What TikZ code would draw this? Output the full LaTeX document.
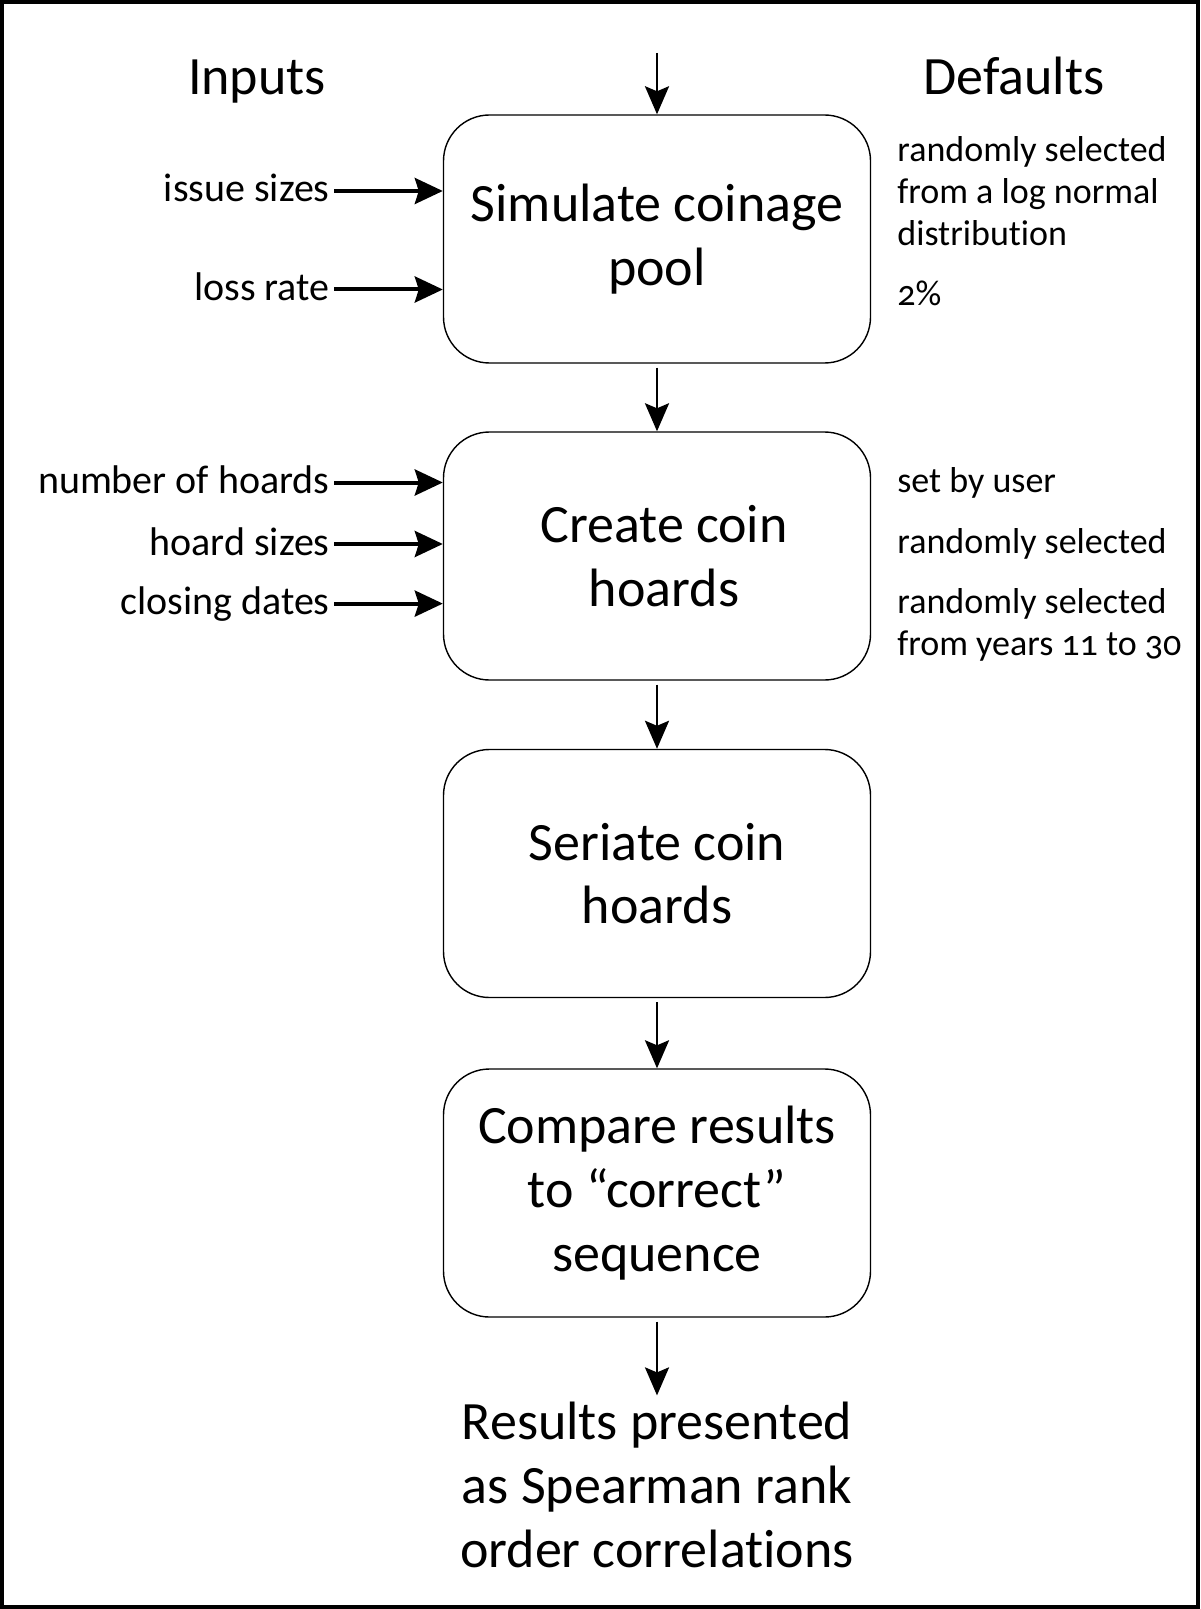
\documentclass[tikz,border=0pt]{standalone}
\usepackage{fontspec}
\setmainfont{Carlito}[Numbers=OldStyle, Ligatures=NoCommon]
\usetikzlibrary{arrows.meta}
\begin{document}
\begin{tikzpicture}[x=0.5pt, y=-0.5pt,
  stepbox/.style={draw, line width=0.7pt, rounded corners=23pt,
    minimum width=213.5pt, minimum height=124pt, align=center,
    font=\fontsize{27}{31.8}\selectfont},
  headtext/.style={font=\fontsize{27}{31.8}\selectfont},
  inlabel/.style={anchor=east, inner sep=2pt, font=\fontsize{20}{24}\selectfont,
    text height=12pt, text depth=1pt},
  deflabel/.style={anchor=west, inner sep=0pt, align=left,
    font=\fontsize{18}{21}\selectfont},
  inarrow/.style={line width=2pt, -{Stealth[length=14pt, width=13pt, inset=2pt]}},
  flowarrow/.style={line width=1.4pt, shorten <=2pt,
    -{Stealth[length=14pt, width=12pt, inset=2.5pt]}}]
  \useasboundingbox (0,0) rectangle (1200,1609);

  % Frame
  \draw[line width=2pt] (2,2) rectangle (1198,1607);

  % Column heads
  \node[headtext, anchor=base] (inputs) at (257,95) {Inputs};
  \node[headtext, anchor=base] (defaults) at (1014,95) {Defaults};

  % Process steps
  \coordinate (start) at (657,49);
  \node[stepbox] (pool) at (657,239) {Simulate coinage\\pool};
  \node[stepbox] (hoards) at (657,556) {\hspace*{7pt}Create coin\\\hspace*{7pt}hoards};
  \node[stepbox] (seriate) at (657,873.5) {Seriate coin\\hoards};
  \node[stepbox] (compare) at (657,1193) {Compare results\\to ``correct''\\sequence};
  \node[headtext, align=center] (results) at (657,1485)
    {Results presented\\as Spearman rank\\order correlations};

  \draw[flowarrow] (start) -- (pool);
  \draw[flowarrow] (pool) -- (hoards);
  \draw[flowarrow] (hoards) -- (seriate);
  \draw[flowarrow] (seriate) -- (compare);
  \draw[flowarrow] (compare) -- (results);

  % Inputs to the coinage pool
  \node[inlabel] (issue) at (334,191) {issue sizes};
  \node[inlabel] (loss) at (334,289.5) {loss rate};
  \draw[inarrow] (issue) -- (issue -| pool.west);
  \draw[inarrow] (loss) -- (loss -| pool.west);

  % Inputs to the hoards
  \node[inlabel] (number) at (334,482.5) {number of hoards};
  \node[inlabel] (sizes) at (334,544) {hoard sizes};
  \node[inlabel] (closing) at (334,603.6) {closing dates};
  \draw[inarrow] (number) -- (number -| hoards.west);
  \draw[inarrow] (sizes) -- (sizes -| hoards.west);
  \draw[inarrow] (closing) -- (closing -| hoards.west);

  % Defaults
  \node[deflabel] (issuedef) at (897,191)
    {randomly selected\\from a log normal\\distribution};
  \node[deflabel] (lossdef) at (897,293.6) {2\%};
  \node[deflabel] (numberdef) at (897,482.5) {set by user};
  \node[deflabel] (sizesdef) at (897,544) {randomly selected};
  \node[deflabel] (closingdef) at (897,624.7)
    {randomly selected\\from years 11 to 30};
\end{tikzpicture}
\end{document}
